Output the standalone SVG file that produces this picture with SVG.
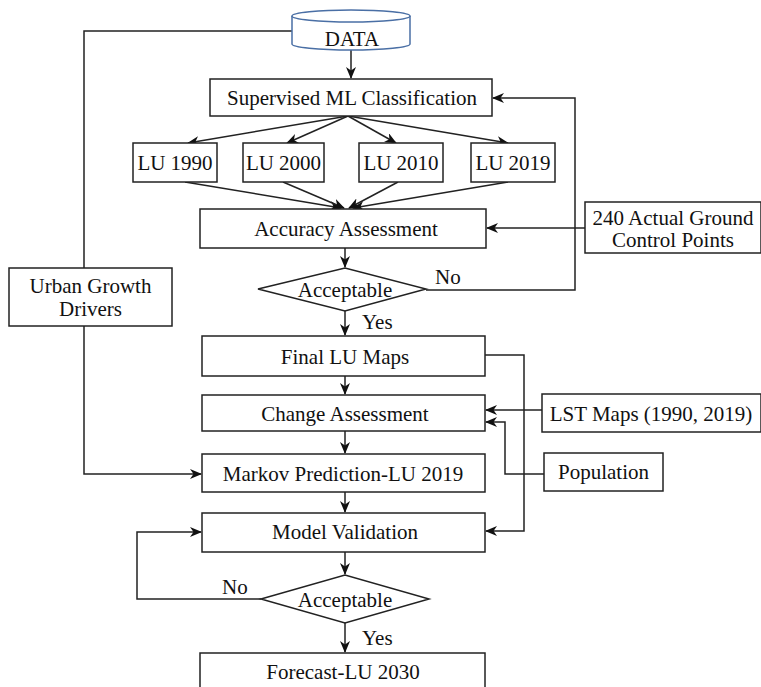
<svg xmlns="http://www.w3.org/2000/svg" width="761" height="687" viewBox="0 0 761 687" font-family="'Liberation Serif', 'DejaVu Serif', serif" font-size="21">
<style>
.box{fill:#fff;stroke:#222;stroke-width:1.5}
.c{fill:none;stroke:#222;stroke-width:1.5}
text{fill:#111}
.m{text-anchor:middle}
</style>
<defs>
<marker id="a" viewBox="0 0 12 10" refX="11" refY="5" markerWidth="12" markerHeight="10" markerUnits="userSpaceOnUse" orient="auto">
<path d="M0,0 L12,5 L0,10 L3.5,5 z" fill="#111"/>
</marker>
</defs>
<rect width="761" height="687" fill="#fff"/>
<g id="connectors">
<path class="c" d="M292,31 H84 V268"/>
<path class="c" d="M84,326 V474 H201" marker-end="url(#a)"/>
<path class="c" d="M351,50 V78" marker-end="url(#a)"/>
<path class="c" d="M348,116 L188,143" marker-end="url(#a)"/>
<path class="c" d="M348,116 L287,143" marker-end="url(#a)"/>
<path class="c" d="M348,116 L396,143" marker-end="url(#a)"/>
<path class="c" d="M348,116 L508,143" marker-end="url(#a)"/>
<path class="c" d="M185,182 L341,208" marker-end="url(#a)"/>
<path class="c" d="M283,182 L344,208" marker-end="url(#a)"/>
<path class="c" d="M398,182 L349,208" marker-end="url(#a)"/>
<path class="c" d="M508,182 L353,208" marker-end="url(#a)"/>
<path class="c" d="M585,228 H487" marker-end="url(#a)"/>
<path class="c" d="M345,248 V267" marker-end="url(#a)"/>
<path class="c" d="M426,290 H575 V98 H493" marker-end="url(#a)"/>
<path class="c" d="M345,311 V335" marker-end="url(#a)"/>
<path class="c" d="M485,355 H524 V531 H486" marker-end="url(#a)"/>
<path class="c" d="M345,376 V394" marker-end="url(#a)"/>
<path class="c" d="M542,410 H486" marker-end="url(#a)"/>
<path class="c" d="M544,474 H505 V422 H486" marker-end="url(#a)"/>
<path class="c" d="M345,431 V453" marker-end="url(#a)"/>
<path class="c" d="M345,492 V512" marker-end="url(#a)"/>
<path class="c" d="M345,552 V574" marker-end="url(#a)"/>
<path class="c" d="M261,599 H137 V532 H201" marker-end="url(#a)"/>
<path class="c" d="M345,623 V652" marker-end="url(#a)"/>
</g>
<g id="data">
<path d="M292,16 V44 A59,6 0 0 0 410,44 V16" fill="#fff" stroke="#4a6fa5" stroke-width="1.5"/>
<ellipse cx="351" cy="16" rx="59" ry="6" fill="#fff" stroke="#4a6fa5" stroke-width="1.5"/>
<text x="352" y="46" class="m">DATA</text>
</g>
<g id="supervised">
<rect class="box" x="210" y="79" width="282" height="37"/>
<text x="352" y="105" class="m">Supervised ML Classification</text>
</g>
<g id="lu1990"><rect class="box" x="133" y="143" width="84" height="39"/><text x="175" y="170" class="m">LU 1990</text></g>
<g id="lu2000"><rect class="box" x="243" y="143" width="81" height="39"/><text x="283.5" y="170" class="m">LU 2000</text></g>
<g id="lu2010"><rect class="box" x="359" y="143" width="84" height="39"/><text x="401" y="170" class="m">LU 2010</text></g>
<g id="lu2019"><rect class="box" x="471" y="143" width="84" height="39"/><text x="513" y="170" class="m">LU 2019</text></g>
<g id="accuracy"><rect class="box" x="200" y="209" width="286" height="39"/><text x="346" y="236" class="m">Accuracy Assessment</text></g>
<g id="gcp"><rect class="box" x="585" y="202" width="176" height="51"/><text x="673" y="225" class="m">240 Actual Ground</text><text x="673" y="247" class="m">Control Points</text></g>
<g id="urban"><rect class="box" x="9" y="268" width="163" height="58"/><text x="90.5" y="293" class="m">Urban Growth</text><text x="90.5" y="316" class="m">Drivers</text></g>
<g id="acceptable1"><polygon class="box" points="258,289 345,268 426,289 345,311"/><text x="345" y="297" class="m">Acceptable</text></g>
<text x="435" y="284">No</text>
<text x="362" y="329">Yes</text>
<g id="final"><rect class="box" x="202" y="336" width="283" height="40"/><text x="345" y="364" class="m">Final LU Maps</text></g>
<g id="change"><rect class="box" x="202" y="395" width="283" height="36"/><text x="345" y="421" class="m">Change Assessment</text></g>
<g id="lst"><rect class="box" x="542" y="394" width="219" height="38"/><text x="651" y="421" class="m">LST Maps (1990, 2019)</text></g>
<g id="population"><rect class="box" x="544" y="453" width="119" height="38"/><text x="603.5" y="479" class="m">Population</text></g>
<g id="markov"><rect class="box" x="202" y="454" width="283" height="38"/><text x="343" y="481" class="m">Markov Prediction-LU 2019</text></g>
<g id="validation"><rect class="box" x="202" y="513" width="283" height="39"/><text x="345" y="539" class="m">Model Validation</text></g>
<g id="acceptable2"><polygon class="box" points="261,599 345,575 429,599 345,623"/><text x="345" y="607" class="m">Acceptable</text></g>
<text x="222" y="594">No</text>
<text x="362" y="645">Yes</text>
<g id="forecast"><rect class="box" x="200" y="653" width="285" height="40"/><text x="343" y="679" class="m">Forecast-LU 2030</text></g>
</svg>
